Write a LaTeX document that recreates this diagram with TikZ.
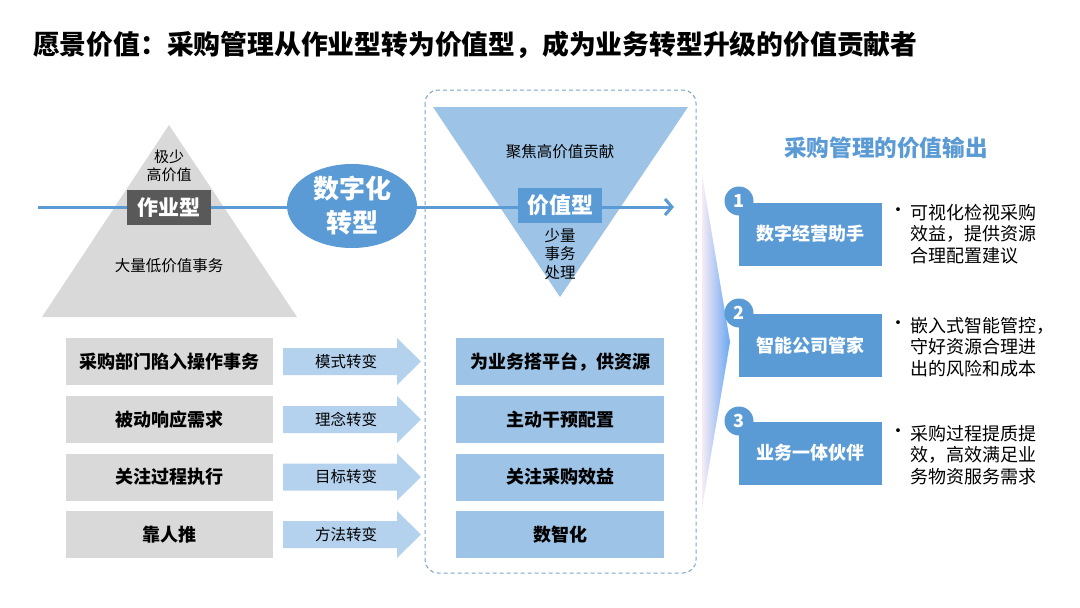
\documentclass[tikz,border=0pt]{standalone}
\usepackage{fontspec}
\setmainfont{Noto Sans CJK SC}
\usetikzlibrary{arrows.meta,shapes.geometric}
\definecolor{mblue}{HTML}{5B9BD5}
\definecolor{lblue}{HTML}{9DC3E6}
\definecolor{ablue}{HTML}{B4D2EE}
\definecolor{lgray}{HTML}{D9D9D9}
\definecolor{dgray}{HTML}{595959}
\definecolor{dashc}{HTML}{7FA3C8}
\definecolor{wedgeL}{HTML}{F6ECF5}
\definecolor{wedgeR}{HTML}{6AA6F2}
\newcommand\fwp[1]{\makebox[1em][c]{#1}}
\begin{document}
\begin{tikzpicture}[x=1pt,y=-1pt,
  graybox/.style={fill=lgray,minimum width=207,minimum height=47,inner sep=0,font=\fontsize{18}{21}\selectfont\bfseries},
  bluebox/.style={fill=lblue,minimum width=208,minimum height=47,inner sep=0,font=\fontsize{18}{21}\selectfont\bfseries},
  outbox/.style={fill=mblue,minimum width=143,minimum height=63,inner sep=0,text=white,font=\fontsize{18}{21}\selectfont\bfseries},
  numdot/.style={circle,fill=mblue,minimum size=29,inner sep=0,text=white,font=\fontsize{18}{21}\selectfont\bfseries},
  arrlabel/.style={inner sep=0,font=\fontsize{15.5}{18}\selectfont},
  plain/.style={inner sep=0,align=center,font=\fontsize{15.5}{18.5}\selectfont},
  bullettext/.style={inner sep=0,align=left,font=\fontsize{18}{21.7}\selectfont},
  tagbox/.style={inner sep=0,minimum height=35,text=white,font=\fontsize{21}{24}\selectfont\bfseries}
]
\useasboundingbox (0,0) rectangle (1080,608);
\fill[white] (0,0) rectangle (1080,608);

% title
\node[anchor=west,inner sep=0,font=\fontsize{26.8}{30}\selectfont\bfseries] (title) at (33,45)
  {愿景价值\fwp{：}采购管理从作业型转为价值型\fwp{，}成为业务转型升级的价值贡献者};

% left pyramid
\fill[lgray] (169,125) -- (297,317) -- (42,317) -- cycle;
% dashed frame
\draw[dashc,line width=1pt,dash pattern=on 4pt off 3pt,rounded corners=13pt] (425,90) rectangle (696,573);
% inverted triangle
\fill[lblue] (433,107) -- (688,107) -- (560,297) -- cycle;

% wedge
\shade[left color=wedgeL,right color=wedgeR] (702,175) -- (730,342) -- (702,508) -- cycle;

% main line
\coordinate (ls) at (38,207);
\coordinate (le) at (674,207);
\draw[mblue,line width=3pt,-{Straight Barb[length=7pt,width=16pt,line width=3pt]}] (ls) -- (le);

% pyramid texts
\node[plain,font=\fontsize{15}{18}\selectfont] (few) at (169,166) {极少\\高价值};
\node[tagbox,fill=dgray,minimum width=84] (zy) at (169,207.5) {作业型};
\node[plain] (many) at (169,266) {大量低价值事务};

% ellipse
\node[ellipse,fill=mblue,minimum width=130,minimum height=84,inner sep=0,text=white,align=center,
  font=\fontsize{26}{34}\selectfont\bfseries] (digi) at (352,206) {数字化\\转型};

% inverted triangle texts
\node[plain] (focus) at (560,152) {聚焦高价值贡献};
\node[tagbox,fill=mblue,minimum width=84,font=\fontsize{22}{24}\selectfont\bfseries] (jz) at (560,205.5) {价值型};
\node[plain] (small) at (560,254) {少量\\事务\\处理};

% rows
\foreach \i/\yc/\l/\m/\r in {1/361.5/采购部门陷入操作事务/模式转变/为业务搭平台，供资源,
                             2/419.5/被动响应需求/理念转变/主动干预配置,
                             3/477/关注过程执行/目标转变/关注采购效益,
                             4/534.5/靠人推/方法转变/数智化}{
  \node[graybox] (L\i) at (169.5,\yc) {\l};
  \node[bluebox] (R\i) at (560,\yc) {\r};
  \fill[ablue] (283,\yc-13.5) -- (397,\yc-13.5) -- (397,\yc-23.5) -- (421,\yc) -- (397,\yc+23.5) -- (397,\yc+13.5) -- (283,\yc+13.5) -- cycle;
  \node[arrlabel] (A\i) at (346,\yc) {\m};
}

% right side
\node[inner sep=0,text=mblue,font=\fontsize{22.6}{26}\selectfont\bfseries] (outtitle) at (886,148) {采购管理的价值输出};

\node[outbox] (O1) at (810.5,234) {数字经营助手};
\node[outbox] (O2) at (810.5,345.5) {智能公司管家};
\node[outbox] (O3) at (810.5,453) {业务一体伙伴};
\node[numdot] (N1) at (739,201) {1};
\node[numdot] (N2) at (739,313) {2};
\node[numdot] (N3) at (739,421) {3};

\node[inner sep=0,font=\fontsize{18}{21}\selectfont] (b1) at (898,212) {•};
\node[bullettext,anchor=west] (T1) at (910,234) {可视化检视采购\\效益，提供资源\\合理配置建议};
\node[inner sep=0,font=\fontsize{18}{21}\selectfont] (b2) at (898,325) {•};
\node[bullettext,anchor=west] (T2) at (910,347) {嵌入式智能管控，\\守好资源合理进\\出的风险和成本};
\node[inner sep=0,font=\fontsize{18}{21}\selectfont] (b3) at (898,433) {•};
\node[bullettext,anchor=west] (T3) at (910,455) {采购过程提质提\\效，高效满足业\\务物资服务需求};
\end{tikzpicture}
\end{document}
